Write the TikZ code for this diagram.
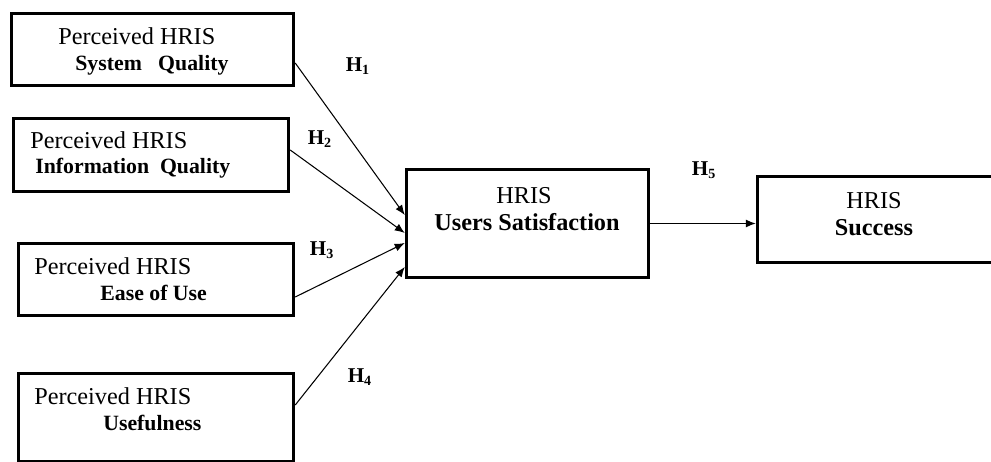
\documentclass[tikz,border=0pt]{standalone}
\usepackage{fontspec}
\setmainfont{Liberation Serif}
\usetikzlibrary{arrows.meta}

\tikzset{
    box/.style={draw, line width=2pt, inner sep=0pt},
    toptext/.style={font=\fontsize{13.8}{16}\selectfont, inner sep=0pt, anchor=base west},
    boldtext/.style={font=\fontsize{12.4}{15}\selectfont\bfseries, inner sep=0pt, anchor=base west},
    midtext/.style={font=\fontsize{13.8}{16}\selectfont, inner sep=0pt, anchor=base},
    hyp/.style={font=\fontsize{12}{14}\selectfont\bfseries, inner sep=0pt},
    link/.style={line width=0.6pt, -{Latex[length=2mm,width=1.6mm]}}
}

\begin{document}
\begin{tikzpicture}[x=0.02cm, y=-0.02cm]
    \useasboundingbox (0,0) rectangle (991,461);
    \clip (0,0) rectangle (991,461);

    % the four perceived constructs on the left
    \node[box, minimum width=5.64cm, minimum height=1.44cm] (sq) at (152.5,49.5) {};
    \node[toptext] (sq-a) at (58,44) {Perceived HRIS};
    \node[boldtext] (sq-b) at (75,70) {System\ \ \ Quality};

    \node[box, minimum width=5.5cm, minimum height=1.46cm] (iq) at (151,155) {};
    \node[toptext] (iq-a) at (30,148) {Perceived HRIS};
    \node[boldtext] (iq-b) at (35,173) {Information\ \ Quality};

    \node[box, minimum width=5.5cm, minimum height=1.44cm] (eu) at (156,279.5) {};
    \node[toptext] (eu-a) at (34,274) {Perceived HRIS};
    \node[boldtext] (eu-b) at (100,300) {Ease of Use};

    \node[box, minimum width=5.5cm, minimum height=1.77cm] (uf) at (156,417.75) {};
    \node[toptext] (uf-a) at (34,404) {Perceived HRIS};
    \node[boldtext] (uf-b) at (103,430) {Usefulness};

    % satisfaction and success
    \node[box, minimum width=4.84cm, minimum height=2.16cm] (us) at (527.5,223.5) {};
    \node[midtext] (us-a) at (524,203) {HRIS};
    \node[midtext, font=\fontsize{13.8}{16}\selectfont\bfseries] (us-b) at (527,230) {Users Satisfaction};

    \node[box, minimum width=4.85cm, minimum height=1.72cm] (hs) at (878.75,219.5) {};
    \node[midtext] (hs-a) at (874,208) {HRIS};
    \node[midtext, font=\fontsize{13.8}{16}\selectfont\bfseries] (hs-b) at (874,235) {Success};

    % hypotheses
    \draw[link] ([yshift=-0.27cm]sq.east) -- ([yshift=0.17cm]us.west);
    \draw[link] ([yshift=0.1cm]iq.east) -- ([yshift=-0.19cm]us.west);
    \draw[link] ([yshift=-0.35cm]eu.east) -- ([yshift=-0.39cm]us.west);
    \draw[link] ([yshift=0.255cm]uf.east) -- ([yshift=-0.87cm]us.west);
    \draw[link] (us.east) -- (us.east -| hs.west);

    \node[hyp] (h1) at (358,66) {H\textsubscript{1}};
    \node[hyp] (h2) at (320,139) {H\textsubscript{2}};
    \node[hyp] (h3) at (322,250) {H\textsubscript{3}};
    \node[hyp] (h4) at (360,377) {H\textsubscript{4}};
    \node[hyp] (h5) at (704,170) {H\textsubscript{5}};
\end{tikzpicture}
\end{document}
